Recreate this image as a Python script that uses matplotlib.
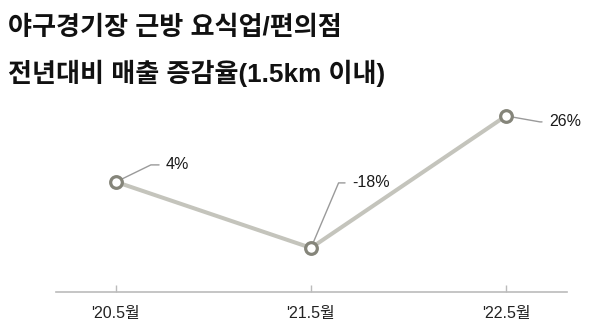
import matplotlib
matplotlib.use("Agg")
import matplotlib.pyplot as plt

plt.rcParams['font.family'] = ['Liberation Sans', 'Noto Sans CJK KR', 'DejaVu Sans']

categories = ["'20.5월", "'21.5월", "'22.5월"]
values = [4, -18, 26]
labels = ["4%", "-18%", "26%"]
title_lines = ["야구경기장 근방 요식업/편의점", "전년대비 매출 증감율(1.5km 이내)"]

fig = plt.figure(figsize=(6, 3.3), dpi=100)
ax = fig.add_axes([56/600, 1-292/330, (567-56)/600, (292-100)/330])

x = list(range(len(categories)))
ax.plot(x, values, color='#c4c4bc', lw=2.9, zorder=2, solid_capstyle='round')
ax.plot(x, values, ls='none', marker='o', ms=8.4, mew=2.3,
        mfc='white', mec='#85857a', zorder=4)

offsets = [(50, 17), (41, 65), (43, -6)]
angles = [26, 67, -10]
for xi, v, lab, off, ang in zip(x, values, labels, offsets, angles):
    ax.annotate(lab, xy=(xi, v), xytext=off, textcoords='offset pixels',
                ha='left', va='center', fontsize=11.5, color='#1a1a1a',
                arrowprops=dict(arrowstyle='-', color='#9a9a9a', lw=1.0,
                                shrinkA=3, shrinkB=0, relpos=(0, 0.5),
                                connectionstyle=f'angle,angleA=0,angleB={ang},rad=0'),
                zorder=3)

ax.set_xlim(-0.3077, 2.313)
ax.set_ylim(-32.7, 31.3)
ax.set_xticks(x)
ax.set_xticklabels(categories, fontsize=11.5, color='#222222')
ax.set_yticks([])
for s in ['top', 'left', 'right']:
    ax.spines[s].set_visible(False)
ax.spines['bottom'].set_color('#bbbbbb')
ax.spines['bottom'].set_linewidth(1.2)
ax.tick_params(axis='x', direction='in', length=5, width=1, color='#bbbbbb', pad=10)

fig.text(8/600, 1-28/330, title_lines[0], fontsize=18.8, fontweight='bold',
         va='center', ha='left', color='#111111')
fig.text(8/600, 1-73/330, title_lines[1], fontsize=18.8, fontweight='bold',
         va='center', ha='left', color='#111111')

fig.savefig('out.png', dpi=100)
